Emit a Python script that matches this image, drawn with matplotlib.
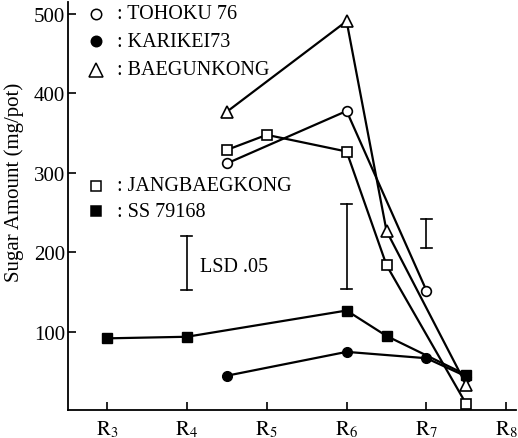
import matplotlib.pyplot as plt

plt.rcParams['font.family'] = ['Liberation Serif', 'DejaVu Serif']
plt.rcParams['mathtext.fontset'] = 'stix'

# growth stages (R3 .. R8, with half steps)
stage_ticks = [3, 4, 5, 6, 7, 8]
stage_labels = [r'$\mathrm{R}_{3}$', r'$\mathrm{R}_{4}$', r'$\mathrm{R}_{5}$',
                r'$\mathrm{R}_{6}$', r'$\mathrm{R}_{7}$', r'$\mathrm{R}_{8}$']

tohoku_x = [4.5, 6, 7]
tohoku_y = [312, 378, 152]

karikei_x = [4.5, 6, 7, 7.5]
karikei_y = [45, 75, 67, 44]

baegun_x = [4.5, 6, 6.5, 7.5]
baegun_y = [377, 491, 227, 33]

jangbaeg_x = [4.5, 5, 6, 6.5, 7.5]
jangbaeg_y = [329, 348, 327, 184, 9]

ss_x = [3, 4, 6, 6.5, 7.5]
ss_y = [92, 94, 127, 95, 46]

# LSD .05 bars: (x, low, high)
lsd_x = [4, 6, 7]
lsd_low = [153, 154, 206]
lsd_high = [221, 261, 242]

fig = plt.figure(figsize=(5.18, 4.39), dpi=100)
ax = fig.add_axes([0.131, 0.064, 0.865, 0.929])

lw = 1.6
ax.plot(tohoku_x, tohoku_y, color='black', lw=lw, marker='o', ms=7,
        mfc='white', mec='black', mew=1.2, zorder=3)
ax.plot(karikei_x, karikei_y, color='black', lw=lw, marker='o', ms=7,
        mfc='black', mec='black', zorder=3)
ax.plot(baegun_x, baegun_y, color='black', lw=lw, marker='^', ms=8,
        mfc='white', mec='black', mew=1.2, zorder=3)
ax.plot(jangbaeg_x, jangbaeg_y, color='black', lw=lw, marker='s', ms=7,
        mfc='white', mec='black', mew=1.2, zorder=3)
ax.plot(ss_x, ss_y, color='black', lw=lw, marker='s', ms=7.5,
        mfc='black', mec='black', zorder=4)

# LSD bars
for x, lo, hi in zip(lsd_x, lsd_low, lsd_high):
    ax.plot([x, x], [lo, hi], color='black', lw=1.2)
    ax.plot([x - 0.07, x + 0.07], [lo, lo], color='black', lw=1.2)
    ax.plot([x - 0.07, x + 0.07], [hi, hi], color='black', lw=1.2)
ax.text(4.16, 182, 'LSD .05', fontsize=14.5, va='center', ha='left')

# hand-made legend
legend_rows = [
    ('o', 'white', ': TOHOKU 76', 500),
    ('o', 'black', ': KARIKEI73', 466),
    ('^', 'white', ': BAEGUNKONG', 430),
    ('s', 'white', ': JANGBAEGKONG', 284),
    ('s', 'black', ': SS 79168', 252),
]
for m, fc, label, yy in legend_rows:
    ax.plot([2.86], [yy], marker=m, ms=7.5 if m != '^' else 10, mfc=fc,
            mec='black', mew=1.1, ls='none', clip_on=False)
    ax.text(3.12, yy, label, fontsize=14.5, va='center', ha='left')

ax.set_xlim(2.51, 8.12)
ax.set_ylim(2, 515)
ax.set_xticks(stage_ticks)
ax.set_xticklabels(stage_labels, fontsize=18)
ax.set_yticks([100, 200, 300, 400, 500])
ax.tick_params(axis='both', direction='in', length=6, width=1.2, labelsize=15)
ax.tick_params(axis='x', pad=6)
ax.tick_params(axis='y', pad=2)
ax.spines['top'].set_visible(False)
ax.spines['right'].set_visible(False)
ax.spines['left'].set_linewidth(1.3)
ax.spines['bottom'].set_linewidth(1.3)
ax.set_ylabel('Sugar Amount (mg/pot)', fontsize=15)
ax.yaxis.set_label_coords(-0.098, 0.56)

fig.savefig('out.png', dpi=100)
